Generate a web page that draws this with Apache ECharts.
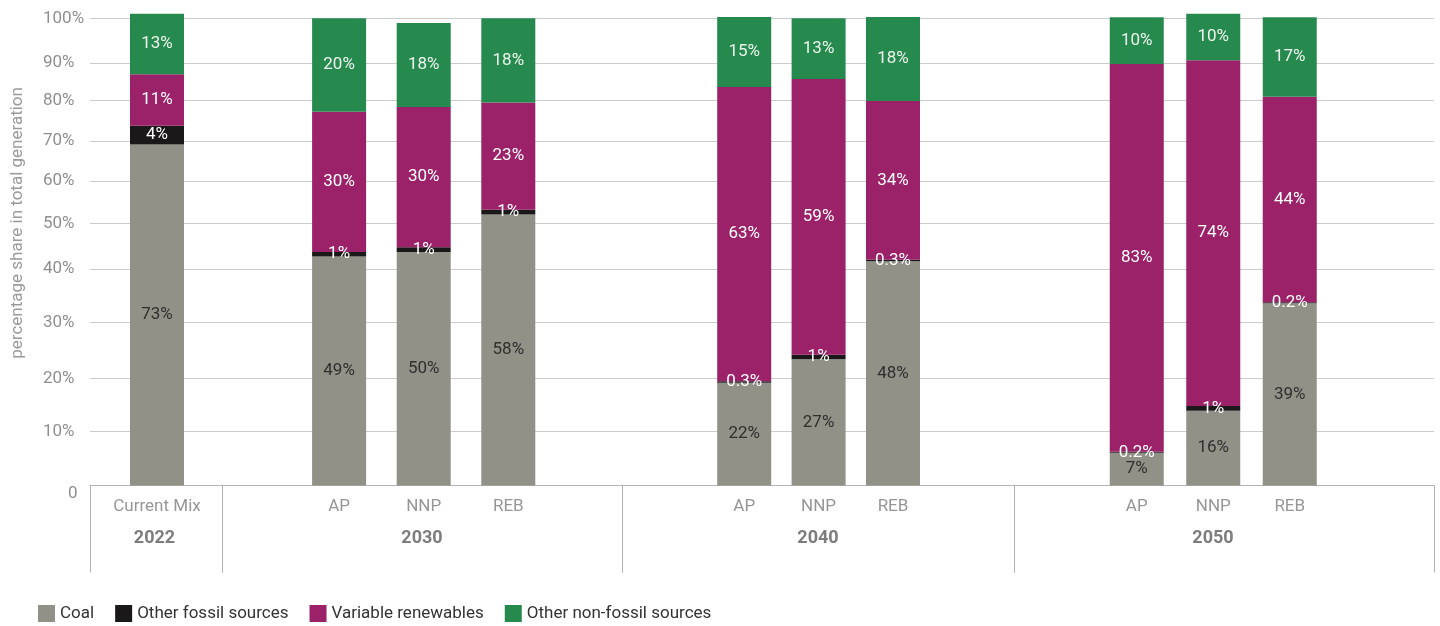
<!DOCTYPE html>
<html>
<head>
<meta charset="utf-8">
<script src="https://cdn.jsdelivr.net/npm/echarts@6/dist/echarts.min.js"></script>
<style>
  html, body { margin: 0; padding: 0; background: #ffffff; }
  #chart { width: 1440px; height: 626px; }
</style>
</head>
<body>
<div id="chart"></div>
<script>
// Generation mix by year and scenario (share of total generation, %)
const years = ['2022', '2030', '2040', '2050'];
const scenarioLabels = [['Current Mix'], ['AP', 'NNP', 'REB'], ['AP', 'NNP', 'REB'], ['AP', 'NNP', 'REB']];
const coal = [[73], [49, 50, 58], [22, 27, 48], [7, 16, 39]];
const otherFossil = [[4], [1, 1, 1], [0.3, 1, 0.3], [0.2, 1, 0.2]];
const variableRenewables = [[11], [30, 30, 23], [63, 59, 34], [83, 74, 44]];
const otherNonFossil = [[13], [20, 18, 18], [15, 13, 18], [10, 10, 17]];
const seriesNames = ['Coal', 'Other fossil sources', 'Variable renewables', 'Other non-fossil sources'];

// Y gridlines and their labels
const yTickValues = [0, 11.6, 22.9, 34.9, 46.3, 56.1, 65.2, 73.7, 82.4, 90.4, 100];
const yTickLabels = ['0', '10%', '20%', '30%', '40%', '50%', '60%', '70%', '80%', '90%', '100%'];

// ---- layout & styles ----
const FONT = "Roboto, 'Noto Sans', sans-serif";
const FS = 17;
const COLORS = ['#919187', '#1b1819', '#9b2169', '#268a4f'];
const LABEL_COLORS = ['#2f2f2f', '#ffffff', '#ffffff', '#eef5ee'];
const W = 1440, H = 626;
const PLOT_TOP = 18.3, PLOT_BOTTOM = H - 485.5;
const groupSpans = [[90, 222], [222, 622], [622, 1014], [1014, 1434]];
const barSpans = [[101, 213], [296.8, 550.6], [707, 930.2], [1098.5, 1328]];
const yearLabelShift = [-3, 0, 0, -22];   // right padding on each year label (px)
const AXIS_GREY = '#b3b3b3';

const grids = [], xAxes = [], yAxes = [], series = [];

function addGrid(l, r) {
  grids.push({ left: l, right: W - r, top: PLOT_TOP, bottom: PLOT_BOTTOM, containLabel: false });
  return grids.length - 1;
}

// main plot area: y scale, gridlines and tick labels
const g0 = addGrid(90, 1434);
xAxes.push({ gridIndex: g0, type: 'value', show: false, min: 0, max: 1 });
yAxes.push({
  gridIndex: g0, type: 'value', min: 0, max: 100,
  name: 'percentage share in total generation',
  nameLocation: 'middle', nameGap: 64,
  nameTextStyle: { color: '#9a9a9a', fontSize: 17, fontFamily: FONT, padding: [0, 0, 0, 58] },
  axisLine: { show: false },
  axisTick: { show: false, customValues: yTickValues.slice(1) },
  splitLine: { show: true, lineStyle: { color: '#cccccc', width: 1 } },
  axisLabel: {
    customValues: yTickValues,
    align: 'left', margin: 47,
    color: '#8f8f8f', fontSize: FS, fontFamily: FONT,
    formatter: function (v) {
      const i = yTickValues.findIndex(t => Math.abs(t - v) < 1e-6);
      const txt = i >= 0 ? yTickLabels[i] : '';
      return i === 0 ? '{z|' + txt + '}' : txt;
    },
    rich: { z: { padding: [16, 0, 0, 25], color: '#8f8f8f', fontSize: FS, fontFamily: FONT } }
  }
});

// year groups: axis line, separators and bold year labels
years.forEach((yr, i) => {
  const gi = addGrid(groupSpans[i][0], groupSpans[i][1]);
  const sh = yearLabelShift[i];
  xAxes.push({
    gridIndex: gi, type: 'category', data: [yr],
    axisLine: { show: true, lineStyle: { color: AXIS_GREY, width: 1 } },
    axisTick: { show: true, length: 87, lineStyle: { color: AXIS_GREY, width: 1 } },
    axisLabel: {
      margin: 44, color: '#7d7d7d', fontWeight: 'bold', fontSize: 18, fontFamily: FONT,
      padding: [0, -sh, 0, 0]
    }
  });
  yAxes.push({ gridIndex: gi, type: 'value', min: 0, max: 100, show: false });
});

// stacked bars per year group
const stacks = [coal, otherFossil, variableRenewables, otherNonFossil];
years.forEach((yr, i) => {
  const gi = addGrid(barSpans[i][0], barSpans[i][1]);
  xAxes.push({
    gridIndex: gi, type: 'category', data: scenarioLabels[i],
    axisLine: { show: false }, axisTick: { show: false },
    axisLabel: { margin: 13, color: '#969696', fontSize: FS, fontFamily: FONT }
  });
  const yi = yAxes.length;
  yAxes.push({ gridIndex: gi, type: 'value', min: 0, max: 100, show: false });
  stacks.forEach((arr, s) => {
    series.push({
      type: 'bar', name: seriesNames[s],
      xAxisIndex: xAxes.length - 1, yAxisIndex: yi,
      stack: 'mix' + i, barWidth: 54, clip: false,
      itemStyle: { color: COLORS[s] },
      label: {
        show: true, position: 'inside',
        color: LABEL_COLORS[s], fontSize: FS, fontFamily: FONT,
        formatter: p => p.value + '%'
      },
      data: arr[i]
    });
  });
});

const chart = echarts.init(document.getElementById('chart'), null, { renderer: 'canvas' });
chart.setOption({
  animation: false,
  backgroundColor: '#ffffff',
  textStyle: { fontFamily: FONT },
  legend: {
    data: seriesNames, left: 38, top: 605, padding: 0,
    icon: 'rect', itemWidth: 17, itemHeight: 17, itemGap: 21,
    textStyle: { color: '#333333', fontSize: FS, fontFamily: FONT }
  },
  grid: grids, xAxis: xAxes, yAxis: yAxes, series: series
});
</script>
</body>
</html>
